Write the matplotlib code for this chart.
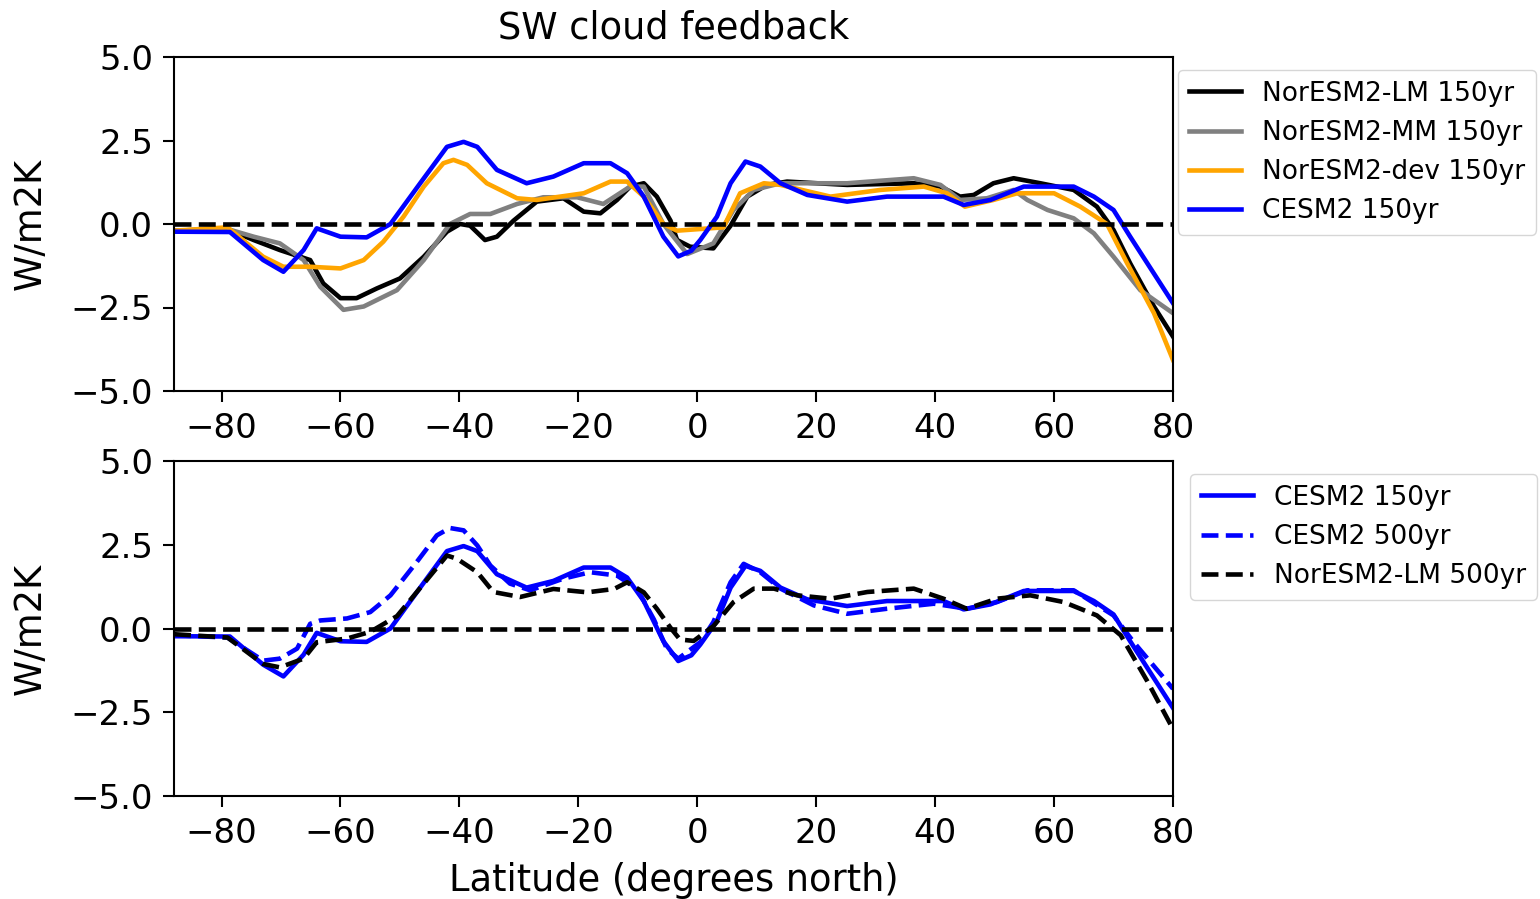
import numpy as np
import matplotlib
matplotlib.use("Agg")
import matplotlib.pyplot as plt

# Latitudes / values (W/m2K)
lat_lm = [-88, -79, -74.6, -70.2, -65.1, -62.9, -60, -57.3, -53.9, -50, -46, -42.1, -39.9, -38.2, -35.7,
          -33.7, -30.9, -27, -22.5, -19.1, -16.3, -13.5, -11.3, -9, -6.8, -4.5, -3.4, -1.2, 2.7, 5.6,
          8.4, 11.7, 15.1, 25.2, 36.4, 40.9, 44.2, 46.5, 49.8, 53.2, 57.7, 63.3, 67.2, 70, 72.8, 76.8, 80]
lm_150 = [-0.2, -0.15, -0.48, -0.78, -1.08, -1.78, -2.22, -2.22, -1.93, -1.63, -0.98, -0.23, 0.0, -0.05, -0.48,
          -0.38, 0.1, 0.67, 0.77, 0.37, 0.32, 0.72, 1.12, 1.22, 0.82, 0.1, -0.48, -0.68, -0.73, -0.05,
          0.82, 1.17, 1.27, 1.17, 1.22, 1.12, 0.82, 0.87, 1.22, 1.37, 1.22, 1.02, 0.52, -0.18, -1.18, -2.47, -3.37]

lat_mm = [-88, -79, -74.6, -70.2, -66.2, -63.4, -59.5, -56.1, -50.5, -46, -41.6, -38.2, -34.8, -30.3, -25.9,
          -20.2, -15.8, -11.3, -9, -5.7, -1.7, 2.7, 6.1, 9.5, 14, 25.2, 36.4, 40.9, 44.2, 48.7,
          53.2, 55.5, 58.9, 63.3, 66.7, 70, 74.5, 76.8, 80]
mm_150 = [-0.2, -0.15, -0.38, -0.58, -1.08, -1.88, -2.57, -2.47, -1.98, -1.08, 0.0, 0.3, 0.3, 0.6, 0.8,
          0.8, 0.6, 1.12, 1.12, 0.0, -0.9, -0.58, 0.42, 1.02, 1.22, 1.22, 1.37, 1.17, 0.72, 0.77,
          1.02, 0.72, 0.42, 0.17, -0.28, -0.98, -1.98, -2.27, -2.67]

lat_dev = [-88, -79, -73, -69.6, -65.1, -60, -56.1, -52.8, -49.4, -46, -42.7, -41, -38.7, -35.4, -30.3,
           -27, -19.1, -14.6, -11.8, -9, -5.7, -3.4, 4.4, 7.2, 11.2, 14, 22.4, 30.8, 38.1, 42,
           45, 49.8, 53.8, 60, 64.4, 68.9, 72.3, 76.8, 80]
dev_150 = [-0.2, -0.1, -0.98, -1.28, -1.28, -1.33, -1.08, -0.53, 0.22, 1.12, 1.82, 1.92, 1.77, 1.22, 0.77,
           0.72, 0.92, 1.27, 1.27, 0.82, 0.0, -0.2, -0.1, 0.92, 1.22, 1.17, 0.82, 1.02, 1.12, 0.92,
           0.52, 0.72, 0.92, 0.92, 0.52, 0.0, -1.18, -2.67, -4.07]

lat_cesm = [-88, -78.6, -73, -69.6, -66.2, -64, -60, -55.6, -51.6, -46.6, -42.1, -39.3, -37, -33.7, -28.7,
            -24.2, -19.1, -14.6, -11.8, -9, -5.7, -3.2, -1, 0.5, 3.3, 5.6, 8.1, 10.6, 14, 18.5,
            25.2, 31.9, 41.4, 44.8, 49.3, 54.9, 63.3, 66.7, 70, 72.8, 80]
cesm_150 = [-0.23, -0.24, -1.08, -1.43, -0.78, -0.13, -0.38, -0.4, 0.0, 1.22, 2.31, 2.46, 2.31, 1.62, 1.22,
            1.42, 1.82, 1.82, 1.52, 0.82, -0.38, -0.97, -0.8, -0.48, 0.22, 1.22, 1.87, 1.72, 1.22, 0.87,
            0.67, 0.82, 0.82, 0.57, 0.72, 1.12, 1.12, 0.82, 0.42, -0.38, -2.37]

lat_cesm500 = [-88, -79, -73, -70.2, -67.3, -65.1, -63.4, -58.9, -55, -51.6, -47.2, -43.8, -41.6, -39.3, -37,
               -34.8, -31.5, -28.1, -22.5, -18, -13.5, -10.1, -7.3, -5.1, -3.2, 0.5, 2.7, 5.6, 7.8, 10.6,
               14, 19.6, 25.2, 31.9, 39.8, 45.3, 50.4, 55.5, 63.3, 70, 73.4, 80]
cesm_500 = [-0.2, -0.27, -0.96, -0.9, -0.6, 0.14, 0.24, 0.3, 0.49, 0.99, 1.98, 2.78, 3.0, 2.93, 2.48,
            1.88, 1.34, 1.14, 1.49, 1.68, 1.58, 1.18, 0.27, -0.61, -0.9, -0.41, 0.19, 1.38, 1.93, 1.68,
            1.19, 0.69, 0.44, 0.59, 0.74, 0.59, 0.79, 1.14, 1.14, 0.39, -0.41, -1.8]

lat_lm500 = [-88, -79, -73, -70.2, -66.2, -64, -58.9, -55, -50.5, -46, -42.1, -40.4, -37, -34.3, -29.8,
             -24.2, -18.5, -14, -11.8, -9, -6.8, -4.5, -2.9, -0.6, 2.7, 6.1, 9.5, 12.9, 16.8, 22.4,
             28.6, 36.4, 41.4, 45.3, 50.4, 56, 61.6, 67.2, 71.2, 75.7, 80]
lm_500 = [-0.17, -0.27, -1.06, -1.16, -0.9, -0.41, -0.3, -0.1, 0.37, 1.34, 2.18, 2.08, 1.68, 1.09, 0.94,
          1.18, 1.08, 1.18, 1.38, 1.08, 0.59, 0.02, -0.33, -0.37, 0.07, 0.79, 1.19, 1.19, 0.99, 0.89,
          1.09, 1.19, 0.89, 0.59, 0.89, 0.99, 0.79, 0.39, -0.2, -1.58, -3.0]

yticks = [-5.0, -2.5, 0.0, 2.5, 5.0]
xticks = [-80, -60, -40, -20, 0, 20, 40, 60, 80]

lw = 3.3
lab_fs = 26.5
tick_fs = 24.5
leg_fs = 19

W, H = 1540, 899
fig = plt.figure(figsize=(W / 100, H / 100), dpi=100)
ax1 = fig.add_axes([174 / W, 1 - 391 / H, (1173 - 174) / W, (391 - 57) / H])
ax2 = fig.add_axes([174 / W, 1 - 796 / H, (1173 - 174) / W, (796 - 461) / H])

# top panel
ax1.plot(lat_lm, lm_150, color='k', lw=lw, label='NorESM2-LM 150yr')
ax1.plot(lat_mm, mm_150, color='gray', lw=lw, label='NorESM2-MM 150yr')
ax1.plot(lat_dev, dev_150, color='orange', lw=lw, label='NorESM2-dev 150yr')
ax1.plot(lat_cesm, cesm_150, color='b', lw=lw, label='CESM2 150yr')
ax1.axhline(0, color='k', ls='--', lw=lw)
ax1.set_title('SW cloud feedback', fontsize=lab_fs, pad=13)
# mostly hidden behind the lower panel, as in the original
ax1.set_xlabel('Latitude (degrees north)', fontsize=lab_fs, labelpad=14)
ax1.legend(loc='upper left', bbox_to_anchor=(1178 / W, 1 - 70 / H), bbox_transform=fig.transFigure,
           borderaxespad=0, fontsize=leg_fs)

# bottom panel
ax2.plot(lat_cesm, cesm_150, color='b', lw=lw, label='CESM2 150yr')
ax2.plot(lat_cesm500, cesm_500, color='b', ls='--', lw=lw, label='CESM2 500yr')
ax2.plot(lat_lm500, lm_500, color='k', ls='--', lw=lw, label='NorESM2-LM 500yr')
ax2.axhline(0, color='k', ls='--', lw=lw)
ax2.set_xlabel('Latitude (degrees north)', fontsize=lab_fs, labelpad=9)
ax2.legend(loc='upper left', bbox_to_anchor=(1190 / W, 1 - 474 / H), bbox_transform=fig.transFigure,
           borderaxespad=0, fontsize=leg_fs)

for ax in (ax1, ax2):
    ax.set_xlim(-88, 80)
    ax.set_ylim(-5, 5)
    ax.set_xticks(xticks)
    ax.set_yticks(yticks)
    ax.set_ylabel('W/m2K', fontsize=lab_fs, labelpad=16)
    ax.tick_params(labelsize=tick_fs, length=8, width=1.5, pad=7)
    for s in ax.spines.values():
        s.set_linewidth(1.5)

fig.savefig('out.png', dpi=100)
